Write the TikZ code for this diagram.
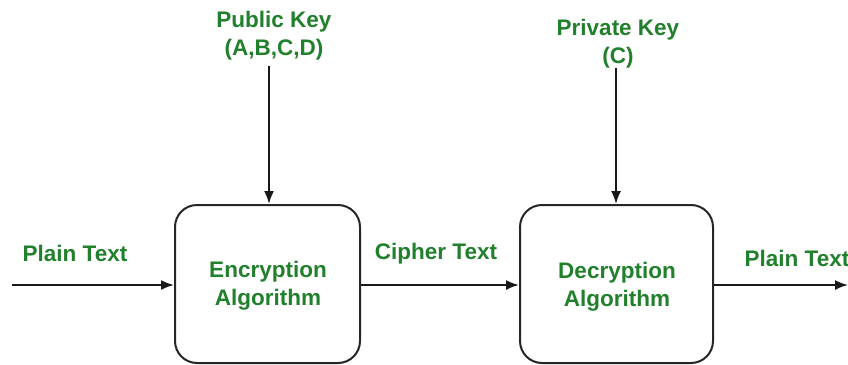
\documentclass[tikz,border=0pt]{standalone}
\usepackage{fontspec}
\setmainfont{Liberation Sans}
\usetikzlibrary{arrows.meta}
\definecolor{gfgreen}{RGB}{33,128,43}
\tikzset{
  algbox/.style={draw=black!85, line width=2pt, rounded corners=22pt, minimum height=158pt, inner sep=0pt},
  lbl/.style={text=gfgreen, font=\fontsize{22.5}{28}\selectfont\bfseries, align=center, inner sep=0pt},
  arr/.style={draw=black!90, line width=1.8pt, -{Latex[length=13pt,width=10pt]}}
}
\begin{document}
\begin{tikzpicture}[x=1pt,y=-1pt]
\useasboundingbox (0,0) rectangle (848,364);
\node[algbox, minimum width=185pt] (enc) at (267.5,284) {};
\node[algbox, minimum width=193pt] (dec) at (616.5,284) {};
\node[lbl] (enct) at (268,286) {Encryption\\Algorithm};
\node[lbl] (dect) at (617,287) {Decryption\\Algorithm};
\node[lbl] (pub) at (274,36) {Public Key\\(A,B,C,D)};
\node[lbl] (priv) at (618,44) {Private Key\\(C)};
\node[lbl] (pl1) at (75,253) {Plain Text};
\node[lbl] (ct) at (436,254) {Cipher Text};
\node[lbl] (pl2) at (797,258) {Plain Text};
\coordinate (inL) at (12,285);
\coordinate (outR) at (848,285);
\coordinate (pubS) at (269,66);
\coordinate (privS) at (616,68);
\draw[arr] (inL) -- (inL -| enc.west);
\draw[arr] (enc.east |- 0,285) -- (dec.west |- 0,285);
\draw[arr] (dec.east |- 0,285) -- (outR);
\draw[arr] (pubS) -- (pubS |- enc.north);
\draw[arr] (privS) -- (privS |- dec.north);
\end{tikzpicture}
\end{document}
